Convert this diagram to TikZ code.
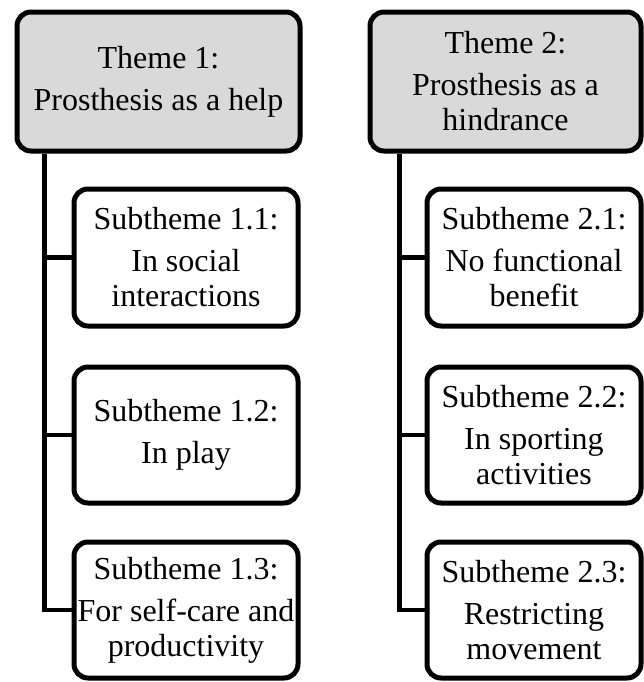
\documentclass[tikz,border=0pt]{standalone}
\usepackage{fontspec}
\setmainfont{Liberation Serif}
\usetikzlibrary{positioning, calc}
\tikzset{
  themebox/.style={
    draw,
    rounded corners = 7pt,
    line width = 2.5pt,
    fill = gray!30,
    align = center,
    inner sep = 0,
    minimum height = 69.5pt,
    font = \fontsize{16}{17.5}\selectfont
  },
  subbox/.style={
    draw,
    rounded corners = 7pt,
    line width = 2.5pt,
    fill = white,
    align = center,
    inner sep = 0,
    minimum height = 68pt,
    font = \fontsize{16}{17.5}\selectfont
  },
  branch/.style={
    line width = 2.3pt
  }
}

\begin{document}
\begin{tikzpicture}
    \useasboundingbox (0, 0) rectangle (322pt, -341pt);
    \coordinate (trunkone) at (22.25pt, 0);
    \coordinate (trunktwo) at (199.75pt, 0);
    % themes
    \node (t1) at (79.25pt, -40.75pt)[themebox, minimum width = 141.5pt]{Theme 1:\\[3.5pt]Prosthesis as a help};
    \node (t2) at (252.75pt, -40.75pt)[themebox, minimum width = 135.5pt]{Theme 2:\\[3.5pt]Prosthesis as a\\hindrance};
    % subthemes of theme 1
    \node (s11) at (93pt, -128.75pt)[subbox, minimum width = 112pt, minimum height = 68.5pt]{Subtheme 1.1:\\[3.5pt]In social\\interactions};
    \node (s12) at (93pt, -217.5pt)[subbox, minimum width = 112pt]{Subtheme 1.2:\\[3.5pt]In play};
    \node (s13) at (93pt, -305pt)[subbox, minimum width = 112pt]{Subtheme 1.3:\\[3.5pt]For self-care and\\productivity};
    % subthemes of theme 2
    \node (s21) at (267pt, -128.75pt)[subbox, minimum width = 107pt, minimum height = 68.5pt]{Subtheme 2.1:\\[3.5pt]No functional\\benefit};
    \node (s22) at (267pt, -217.5pt)[subbox, minimum width = 107pt]{Subtheme 2.2:\\[3.5pt]In sporting\\activities};
    \node (s23) at (267pt, -305pt)[subbox, minimum width = 107pt]{Subtheme 2.3:\\[3.5pt]Restricting\\movement};
    % connectors
    \draw[branch] (t1.south -| trunkone) |- (s13.west);
    \draw[branch] (s11.west -| trunkone) -- (s11.west);
    \draw[branch] (s12.west -| trunkone) -- (s12.west);
    \draw[branch] (t2.south -| trunktwo) |- (s23.west);
    \draw[branch] (s21.west -| trunktwo) -- (s21.west);
    \draw[branch] (s22.west -| trunktwo) -- (s22.west);
\end{tikzpicture}
\end{document}
